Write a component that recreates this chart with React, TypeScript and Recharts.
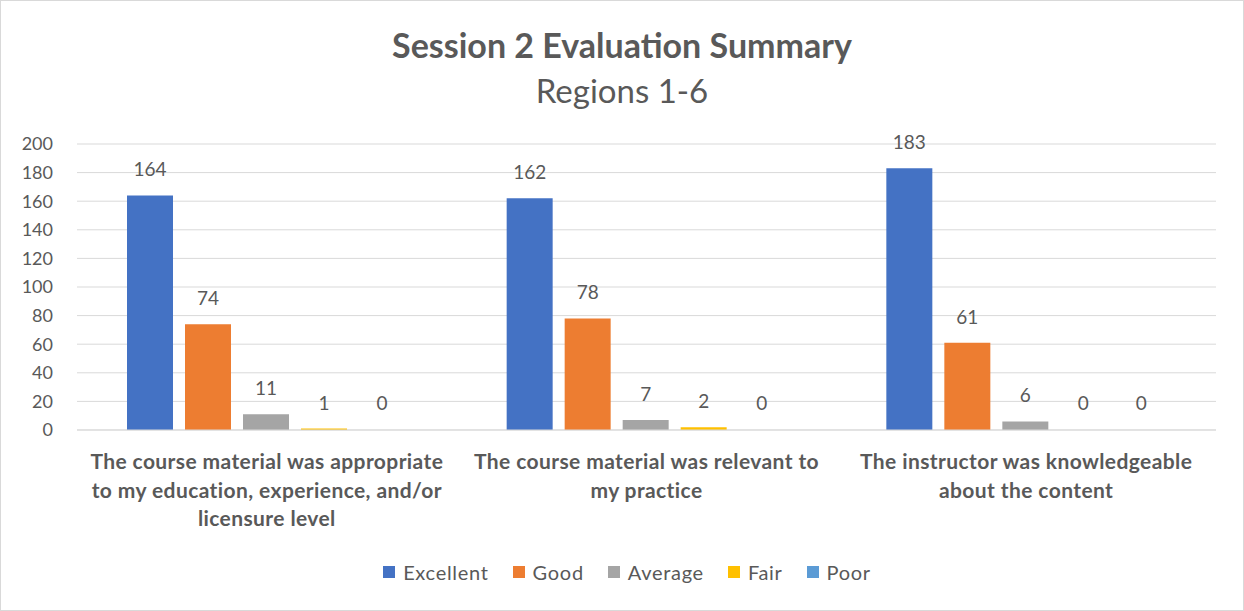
import { BarChart, Bar, XAxis, YAxis, CartesianGrid, LabelList, Cell } from 'recharts';

const categories = [
  'The course material was appropriate\nto my education, experience, and/or\nlicensure level',
  'The course material was relevant to\nmy practice',
  'The instructor was knowledgeable\nabout the content',
];
const excellent = [164, 162, 183];
const good = [74, 78, 61];
const average = [11, 7, 6];
const fair = [1, 2, 0];
const poor = [0, 0, 0];
const yTicks = [0, 20, 40, 60, 80, 100, 120, 140, 160, 180, 200];

const SERIES = [
  { key: 'Excellent', color: '#4472C4' },
  { key: 'Good', color: '#ED7D31' },
  { key: 'Average', color: '#A5A5A5' },
  { key: 'Fair', color: '#FFC000' },
  { key: 'Poor', color: '#5B9BD5' },
];

const data = categories.map((name, i) => ({
  name,
  Excellent: excellent[i],
  Good: good[i],
  Average: average[i],
  Fair: fair[i],
  Poor: poor[i],
}));

const FONT = 'Lato, "Open Sans", sans-serif';
const TEXT = '#595959';

const CategoryTick = ({ x, y, payload }: any) => {
  const lines = String(payload.value).split('\n');
  return (
    <text x={x} y={y} textAnchor="middle" fill={TEXT} fontFamily={FONT} fontSize={21} fontWeight="bold" letterSpacing={0.4}>
      {lines.map((line, i) => (
        <tspan key={i} x={x} dy={i === 0 ? 31 : 28.5}>
          {line}
        </tspan>
      ))}
    </text>
  );
};

export default function App() {
  return (
    <div
      style={{
        position: 'absolute',
        left: 0,
        top: 0,
        width: 1244,
        height: 611,
        background: '#fff',
        boxSizing: 'border-box',
        border: '1px solid #d9d9d9',
        fontFamily: FONT,
      }}
    >
      <div style={{ position: 'absolute', top: 23, width: '100%', textAlign: 'center', color: TEXT, fontSize: 34, fontWeight: 'bold' }}>
        Session 2 Evaluation Summary
      </div>
      <div style={{ position: 'absolute', top: 69, width: '100%', textAlign: 'center', color: TEXT, fontSize: 33 }}>
        Regions 1-6
      </div>
      <div style={{ position: 'absolute', left: -1, top: -1 }}>
        <BarChart
          width={1244}
          height={611}
          data={data}
          margin={{ top: 144, right: 28, bottom: 151, left: 0 }}
          barCategoryGap={50}
          barGap={12}
        >
          <CartesianGrid vertical={false} stroke="#d9d9d9" />
          <XAxis
            dataKey="name"
            height={30}
            tick={<CategoryTick />}
            tickLine={false}
            axisLine={{ stroke: '#d9d9d9' }}
            interval={0}
          />
          <YAxis
            width={77}
            domain={[0, 200]}
            ticks={yTicks}
            interval={0}
            tickLine={false}
            axisLine={false}
            tickMargin={18}
            tick={{ fill: TEXT, fontSize: 18, fontFamily: FONT }}
          />
          {SERIES.map((s) => (
            <Bar key={s.key} dataKey={s.key} fill={s.color} minPointSize={1} isAnimationActive={false}>
              {data.map((d: any, i) => (
                <Cell key={i} fill={d[s.key] > 0 ? s.color : 'none'} />
              ))}
              <LabelList dataKey={s.key} position="top" offset={19} fill={TEXT} fontSize={19} fontFamily={FONT} />
            </Bar>
          ))}
        </BarChart>
      </div>
      <div
        style={{
          position: 'absolute',
          top: 559,
          width: '100%',
          display: 'flex',
          justifyContent: 'center',
          gap: 24,
          color: TEXT,
          fontSize: 20,
          letterSpacing: 0.7,
          paddingLeft: 10,
          boxSizing: 'border-box',
        }}
      >
        {SERIES.map((s) => (
          <div key={s.key} style={{ display: 'flex', alignItems: 'center', gap: 8 }}>
            <div style={{ width: 12, height: 12, background: s.color }} />
            <span>{s.key}</span>
          </div>
        ))}
      </div>
    </div>
  );
}
